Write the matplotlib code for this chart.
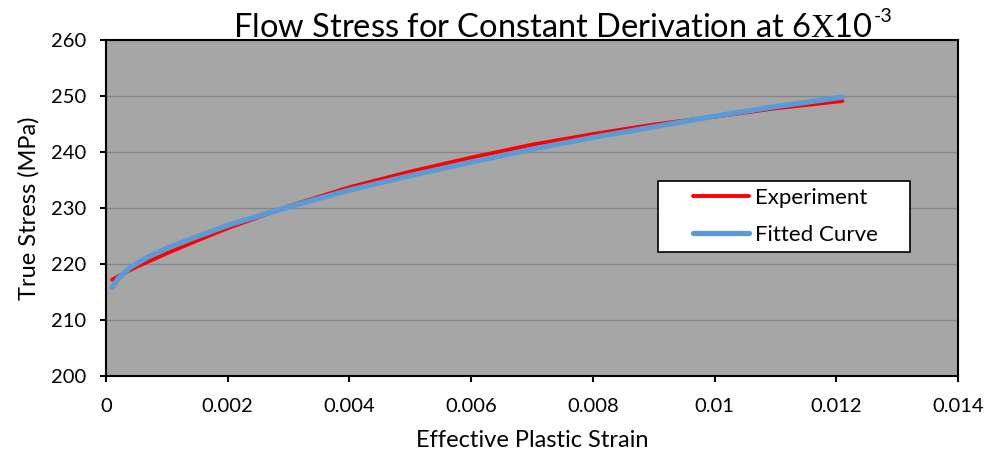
import matplotlib
matplotlib.use("Agg")
import matplotlib.pyplot as plt
from matplotlib.patches import Rectangle

plt.rcParams['font.family'] = ['Lato', 'DejaVu Sans']
plt.rcParams['mathtext.fontset'] = 'custom'
plt.rcParams['mathtext.rm'] = 'Liberation Serif'
plt.rcParams['mathtext.sf'] = 'Lato'

# experiment data
exp_strain = [0.0001, 0.0005, 0.001, 0.0015, 0.002, 0.003, 0.004, 0.005,
              0.006, 0.007, 0.008, 0.009, 0.010, 0.011, 0.0121]
exp_stress = [217.2, 219.5, 221.9, 224.2, 226.4, 230.3, 233.7, 236.5,
              239.0, 241.3, 243.2, 244.9, 246.3, 247.8, 249.1]

# fitted curve
fit_strain = [0.0001, 0.0002, 0.0004, 0.0007, 0.001, 0.0015, 0.002, 0.003,
              0.004, 0.005, 0.006, 0.007, 0.008, 0.009, 0.010, 0.011, 0.0121]
fit_stress = [215.8, 217.4, 219.4, 221.3, 222.8, 224.9, 226.9, 230.2,
              233.2, 235.8, 238.2, 240.5, 242.6, 244.5, 246.4, 248.1, 249.8]

xticks = [0, 0.002, 0.004, 0.006, 0.008, 0.01, 0.012, 0.014]
xticklabels = ['0', '0.002', '0.004', '0.006', '0.008', '0.01', '0.012', '0.014']
yticks = [200, 210, 220, 230, 240, 250, 260]

fig = plt.figure(figsize=(9.88, 4.54), dpi=100)
ax = fig.add_axes([106/988, 1 - 376/454, 852/988, 336/454])
ax.set_facecolor('#a6a6a6')

ax.plot(exp_strain, exp_stress, color='#ff0000', lw=2.8, label='Experiment',
        solid_capstyle='round', zorder=3)
ax.plot(fit_strain, fit_stress, color='#5b9bd5', lw=3.8, label='Fitted Curve',
        solid_capstyle='round', zorder=4)

ax.set_xlim(0, 0.014)
ax.set_ylim(200, 260)
ax.set_xticks(xticks)
ax.set_xticklabels(xticklabels)
ax.set_yticks(yticks)
ax.grid(axis='y', color='#868686', lw=1)
ax.set_axisbelow(True)
for s in ax.spines.values():
    s.set_color('black')
    s.set_linewidth(1.5)
ax.tick_params(direction='out', length=4.5, width=1.5, labelsize=14.5, colors='black')
ax.tick_params(axis='x', pad=11)
ax.tick_params(axis='y', pad=10)

ax.set_xlabel('Effective Plastic Strain', fontsize=17, labelpad=11)
ax.set_ylabel('True Stress (MPa)', fontsize=17, labelpad=8)

# title: main part + small superscript with a plain hyphen
fig.text(873/988, 1 - 37/454, 'Flow Stress for Constant Derivation at 6$\\mathrm{X}$10',
         fontsize=23.5, ha='right', va='baseline')
fig.text(874/988, 1 - 22/454, '-3', fontsize=14, ha='left', va='baseline')

# legend: wide white box with the entries inset
ax.add_patch(Rectangle((0.648, 0.369), 0.2955, 0.211, transform=ax.transAxes,
                       facecolor='white', edgecolor='black', lw=1.2, zorder=5))
leg = ax.legend(loc='center left', bbox_to_anchor=(0.689, 0.4747), fontsize=16,
                frameon=False, handlelength=2.5, handletextpad=0.3,
                borderpad=0, labelspacing=0.75, borderaxespad=0)
leg.set_zorder(6)

fig.savefig('out.png', dpi=100)
